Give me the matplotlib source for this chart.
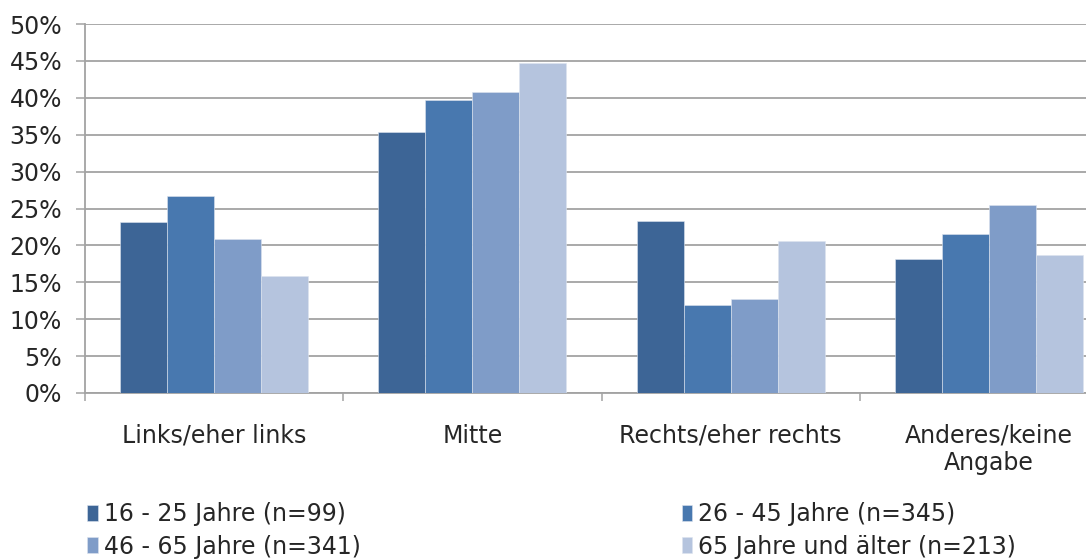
import numpy as np
import matplotlib
matplotlib.use("Agg")
import matplotlib.pyplot as plt
from matplotlib.ticker import FixedLocator, PercentFormatter

categories = ["Links/eher links", "Mitte", "Rechts/eher rechts", "Anderes/keine\nAngabe"]
series_names = ["16 - 25 Jahre (n=99)", "26 - 45 Jahre (n=345)",
                "46 - 65 Jahre (n=341)", "65 Jahre und älter (n=213)"]
age_16_25 = [23.2, 35.4, 23.3, 18.2]
age_26_45 = [26.7, 39.7, 11.9, 21.6]
age_46_65 = [20.8, 40.8, 12.8, 25.5]
age_65_plus = [15.9, 44.7, 20.6, 18.7]
colors = ["#3D6596", "#4878AF", "#7F9CC8", "#B5C4DE"]

plt.rcParams['font.family'] = ['DejaVu Sans']
TXT = "#262626"
GRID = "#A3A3A3"

fig = plt.figure(figsize=(10.86, 5.6), dpi=100)
ax = fig.add_axes([85 / 1086, 1 - 393 / 560, 1033 / 1086, 369 / 560])

x = np.arange(len(categories))
w = 0.182
all_series = [age_16_25, age_26_45, age_46_65, age_65_plus]
handles = []
for i, (vals, c) in enumerate(zip(all_series, colors)):
    b = ax.bar(x + (i - 1.5) * w, vals, width=w, color=c, edgecolor="#DDE4EF",
               linewidth=0.4, label=series_names[i], zorder=3)
    handles.append(b)

ax.set_xlim(-0.5, len(categories) - 0.5)
ax.set_ylim(0, 50)
ax.set_yticks(np.arange(0, 51, 5))
ax.yaxis.set_major_formatter(PercentFormatter(decimals=0))
ax.grid(axis="y", color=GRID, linewidth=1.3, zorder=0)

# group boundaries get the ticks, the centres carry the labels
ax.xaxis.set_major_locator(FixedLocator(np.arange(-0.5, len(categories), 1.0)))
ax.xaxis.set_minor_locator(FixedLocator(x))
ax.set_xticklabels([])
ax.set_xticklabels(categories, minor=True)
ax.tick_params(axis="x", which="major", direction="out", length=6, width=1.1, color=GRID)
ax.tick_params(axis="x", which="minor", length=0, pad=22, labelsize=17, labelcolor=TXT)
ax.tick_params(axis="y", direction="out", length=6.5, width=1.1, color=GRID,
               labelsize=17, labelcolor=TXT, pad=10)

for s in ["top", "right"]:
    ax.spines[s].set_visible(False)
for s in ["left", "bottom"]:
    ax.spines[s].set_color(GRID)
    ax.spines[s].set_linewidth(1.3)

# legend filled row-wise: 1 2 / 3 4
order = [0, 2, 1, 3]
leg = fig.legend([handles[k] for k in order], [series_names[k] for k in order],
                 ncol=2, loc="upper left", bbox_to_anchor=(66 / 1086, 1 - 481 / 560),
                 frameon=False, fontsize=17, handlelength=0.45, handleheight=0.65,
                 handletextpad=0.25, columnspacing=13.6, labelspacing=0.35,
                 labelcolor=TXT)

fig.savefig("out.png", dpi=100)
